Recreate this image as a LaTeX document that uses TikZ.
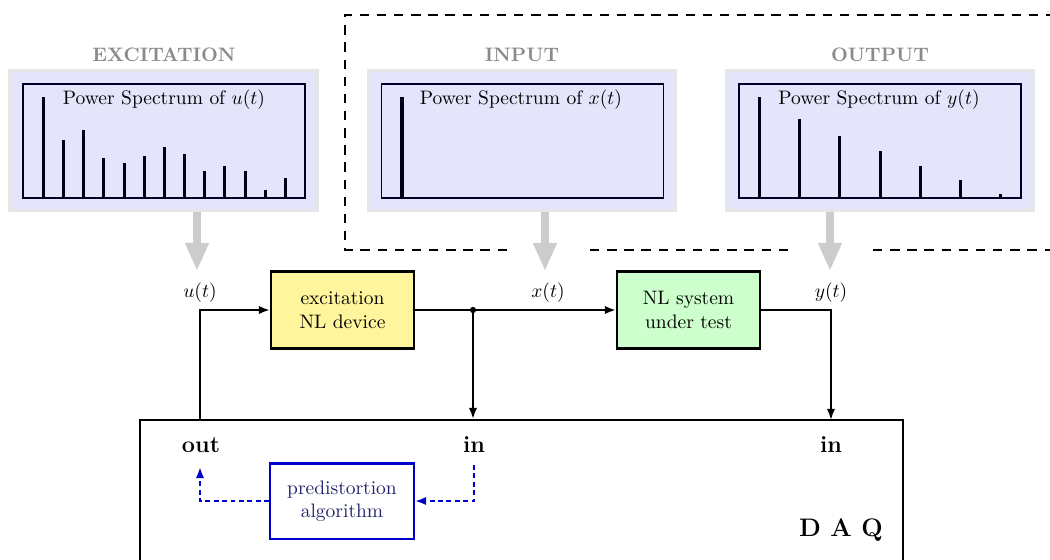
\documentclass[tikz,border=0pt]{standalone}
\usetikzlibrary{arrows.meta}
\definecolor{lav}{RGB}{228,228,250}
\definecolor{pborder}{RGB}{230,230,230}
\definecolor{ttl}{RGB}{138,138,138}
\definecolor{yel}{RGB}{255,245,157}
\definecolor{grn}{RGB}{204,255,204}
\definecolor{dblue}{RGB}{0,0,204}
\definecolor{navy}{RGB}{35,35,110}
\definecolor{arrgray}{RGB}{204,204,204}
\begin{document}
\begin{tikzpicture}[x=0.513pt,y=-0.513pt,
  panelbox/.style={draw=pborder,line width=1.6pt,fill=lav,minimum width=157.5pt,minimum height=71.8pt,inner sep=0pt},
  innerbox/.style={draw=black!85!blue,line width=0.6pt,fill=lav,minimum width=144.7pt,minimum height=58.5pt,inner sep=0pt},
  ptitle/.style={text=ttl,font=\bfseries},
  bar/.style={line width=1.55pt,black!90!blue},
  garrow/.style={line width=4.1pt,arrgray,-{Triangle[length=14.4pt 0 0,width=11.3pt 0 0]}},
  dashline/.style={line width=1pt,dash pattern=on 4.8pt off 4pt},
  block/.style={draw,line width=1.05pt,minimum width=73.4pt,minimum height=39.5pt,align=center,inner sep=0pt},
  conn/.style={line width=1.05pt,-{Latex[length=5.7pt,width=4.3pt]}},
  bconn/.style={line width=1.05pt,dblue,dash pattern=on 2.5pt off 1.8pt,-{Latex[length=5.7pt,width=4.3pt]}},
  port/.style={font=\large\bfseries}
]
\useasboundingbox (0,0) rectangle (1050,559);

% dashed enclosure
\draw[dashline] (507,250) -| (345,15) -- (1070,15);
\draw[dashline] (590,250) -- (788,250);
\draw[dashline] (873,250) -- (1070,250);

% panels
\node[panelbox] (pe) at (163.5,140.5) {};
\node[panelbox] (pi) at (522,140.5) {};
\node[panelbox] (po) at (880,140.5) {};
\node[innerbox] (ie) at (164,141) {};
\node[innerbox] (ii) at (522.5,141) {};
\node[innerbox] (io) at (880,141) {};

\node[ptitle] (te) at (164,54.5) {EXCITATION};
\node[ptitle] (ti) at (522,54.5) {INPUT};
\node[ptitle] (to) at (880,54.5) {OUTPUT};

% spectra
\foreach \i/\t in {0/97,1/140,2/130,3/158,4/163,5/156,6/147,7/154,8/171,9/166,10/171,11/190,12/178}
  \draw[bar] ({43.3+20.18*\i},198) -- ({43.3+20.18*\i},\t);
\draw[bar] (402,198) -- (402,97);
\foreach \i/\t in {0/97,1/119,2/136,3/151,4/166,5/180,6/194}
  \draw[bar] ({759.5+40.2*\i},198) -- ({759.5+40.2*\i},\t);

\node (se) at (164,99.5) {Power Spectrum of $u(t)$};
\node (si) at (521,99.5) {Power Spectrum of $x(t)$};
\node (so) at (879,99.5) {Power Spectrum of $y(t)$};

% gray arrows
\coordinate (ge) at (197,271);
\coordinate (gi) at (545,271);
\coordinate (go) at (830,271);
\draw[garrow] (pe.south -| ge) -- (ge);
\draw[garrow] (pi.south -| gi) -- (gi);
\draw[garrow] (po.south -| go) -- (go);

% signal labels
\node (lu) at (200,293) {$u(t)$};
\node (lx) at (548,293) {$x(t)$};
\node (ly) at (831,293) {$y(t)$};

% blocks
\node[block,fill=yel] (exc) at (342.5,310) {excitation\\NL device};
\node[block,fill=grn] (nl) at (688.5,310) {NL system\\under test};

% DAQ
\node[draw,line width=1.05pt,minimum width=391.4pt,minimum height=102.6pt,inner sep=0pt] (daq) at (521.5,520) {};
\node[port] (pout) at (201,445) {out};
\node[port] (pin1) at (474,445) {in};
\node[port] (pin2) at (831,445) {in};
\node[font=\fontsize{13}{16}\selectfont\bfseries] (dq) at (841,530) {D A Q};

\node[draw=dblue,line width=1.05pt,minimum width=73.9pt,minimum height=38.5pt,align=center,inner sep=0pt,text=navy] (pre) at (342,501) {predistortion\\algorithm};

% connectors
\coordinate (uo) at (200,420);
\coordinate (jx) at (473,310);
\coordinate (yo) at (831,420);
\draw[conn] (uo) |- (exc.west);
\draw[conn] (exc.east) -- (nl.west);
\fill (jx) circle (1.6pt);
\draw[conn] (jx) -- (jx |- daq.north);
\draw[conn] (nl.east) -| (yo);

\coordinate (bi) at (474,465);
\coordinate (bo) at (200,467);
\draw[bconn] (bi) |- (pre.east);
\draw[bconn] (pre.west) -| (bo);
\end{tikzpicture}
\end{document}
